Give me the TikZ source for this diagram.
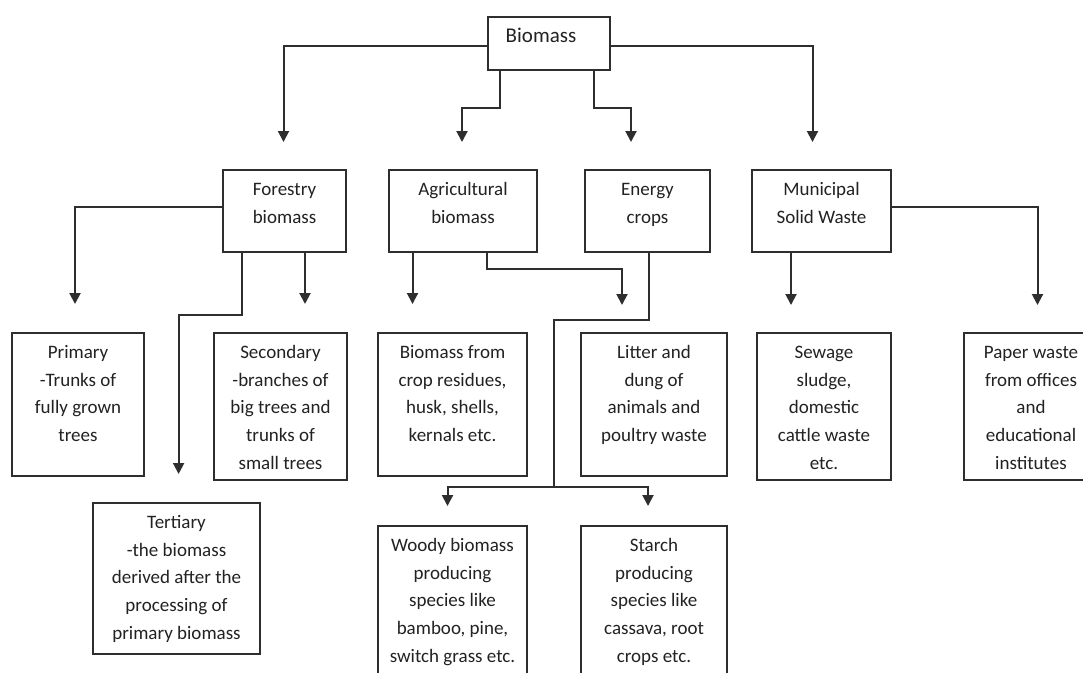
\documentclass[tikz,border=0pt]{standalone}
\usepackage{fontspec}
\setmainfont{Carlito}
\usetikzlibrary{arrows.meta,calc}
\definecolor{ink}{HTML}{222222}
\definecolor{edge}{HTML}{2E2E2E}
\newcommand{\bt}[3]{\parbox[c][#2pt][t]{#1pt}{\centering\rule{0pt}{25.5pt}#3}}
\tikzset{
  boxnode/.style={draw=edge, line width=2pt, inner sep=0pt, anchor=north west, text=ink,
    font=\fontsize{19}{27.7}\selectfont},
  arr/.style={draw=edge, line width=2pt, -{Triangle[length=11pt,width=11pt]}},
  ln/.style={draw=edge, line width=2pt}
}
\begin{document}
\begin{tikzpicture}[x=1pt,y=-1pt]
\useasboundingbox (0,0) rectangle (1083,672);
\clip (0,0) rectangle (1083,672);
\fill[white] (0,0) rectangle (1083,672);
% top
\node[boxnode] (bio) at (487,16) {\bt{122}{53}{\hspace*{-16pt}{\fontsize{21}{27.7}\selectfont Biomass}}};
% row 2
\node[boxnode] (forest) at (222,169) {\bt{123}{82}{Forestry\\biomass}};
\node[boxnode] (agri) at (388,169) {\bt{148}{82}{Agricultural\\biomass}};
\node[boxnode] (energy) at (584,169) {\bt{125}{82}{Energy\\crops}};
\node[boxnode] (msw) at (751,169) {\bt{139}{82}{Municipal\\Solid Waste}};
% row 3
\node[boxnode] (prim) at (11,332) {\bt{132}{143}{Primary\\-Trunks of\\fully grown\\trees}};
\node[boxnode] (sec) at (213,332) {\bt{133}{147}{Secondary\\-branches of\\big trees and\\trunks of\\small trees}};
\node[boxnode] (bfrom) at (377,332) {\bt{149}{143}{Biomass from\\crop residues,\\husk, shells,\\kernals etc.}};
\node[boxnode] (litter) at (580,332) {\bt{146}{143}{Litter and\\dung of\\animals and\\poultry waste}};
\node[boxnode] (sewage) at (756,332) {\bt{134}{147}{Sewage\\sludge,\\domestic\\cattle waste\\etc.}};
\node[boxnode] (paper) at (963,332) {\bt{134}{147}{Paper waste\\from offices\\and\\educational\\institutes}};
% row 4
\node[boxnode] (tert) at (92,502) {\bt{167}{151}{Tertiary\\-the biomass\\derived after the\\processing of\\primary biomass}};
\node[boxnode] (woody) at (377,525) {\bt{149}{160}{Woody biomass\\producing\\species like\\bamboo, pine,\\switch grass etc.}};
\node[boxnode] (starch) at (580,525) {\bt{146}{160}{Starch\\producing\\species like\\cassava, root\\crops etc.}};
% arrow ends
\coordinate (tF) at (283.5,142);
\coordinate (tA) at (462,142);
\coordinate (tE) at (631,142);
\coordinate (tM) at (812.5,142);
\coordinate (pPrim) at (75,304);
\coordinate (pTert) at (178.6,474);
\coordinate (pSec) at (305,304);
\coordinate (pBf) at (412.5,304);
\coordinate (pLit) at (622,305);
\coordinate (jE) at (554,487);
\coordinate (pWoody) at (447.5,506);
\coordinate (pStarch) at (648,506);
\coordinate (pSew) at (791,305);
\coordinate (pPap) at (1037.5,305);
% connectors from Biomass
\draw[arr] ($(bio.north west)+(0,30)$) -| (tF);
\draw[arr] ($(bio.north east)+(0,30)$) -| (tM);
\draw[arr] ($(bio.south west)+(13,0)$) -- ++(0,37) -| (tA);
\draw[arr] ($(bio.south west)+(107,0)$) -- ++(0,37) -| (tE);
% forestry
\draw[arr] ($(forest.north west)+(0,38)$) -| (pPrim);
\draw[arr] ($(forest.south west)+(20,0)$) -- ++(0,62) -| (pTert);
\draw[arr] ($(forest.south west)+(83,0)$) -- (pSec);
% agricultural
\draw[arr] ($(agri.south west)+(24.5,0)$) -- (pBf);
\draw[arr] ($(agri.south west)+(99,0)$) -- ++(0,16) -| (pLit);
% energy crops
\draw[ln] ($(energy.south west)+(65,0)$) -- ++(0,67) -| (jE);
\draw[arr] (jE) -| (pWoody);
\draw[arr] (jE) -| (pStarch);
% municipal
\draw[arr] ($(msw.south west)+(40,0)$) -- (pSew);
\draw[arr] ($(msw.north east)+(0,38)$) -| (pPap);
\end{tikzpicture}
\end{document}
